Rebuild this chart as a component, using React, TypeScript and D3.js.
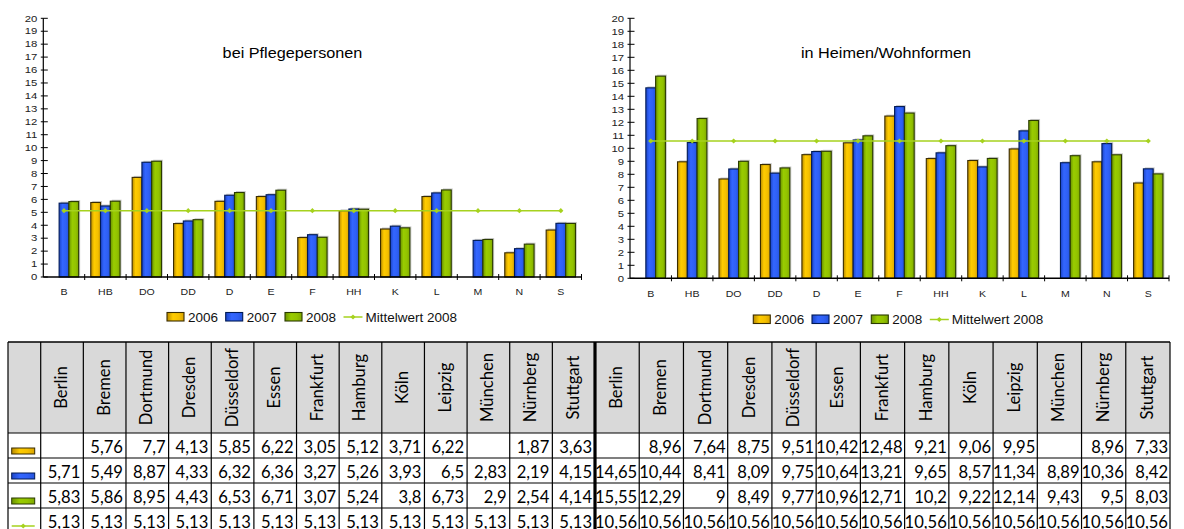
import React from 'react';
import * as d3 from 'd3';

const categories = ['B', 'HB', 'DO', 'DD', 'D', 'E', 'F', 'HH', 'K', 'L', 'M', 'N', 'S'];
const cities = ['Berlin', 'Bremen', 'Dortmund', 'Dresden', 'Düsseldorf', 'Essen', 'Frankfurt', 'Hamburg', 'Köln', 'Leipzig', 'München', 'Nürnberg', 'Stuttgart'];
const years = ['2006', '2007', '2008'];
const meanLabel = 'Mittelwert 2008';
const yTicks = [0, 1, 2, 3, 4, 5, 6, 7, 8, 9, 10, 11, 12, 13, 14, 15, 16, 17, 18, 19, 20];

const pflege2006: (number | null)[] = [null, 5.76, 7.7, 4.13, 5.85, 6.22, 3.05, 5.12, 3.71, 6.22, null, 1.87, 3.63];
const pflege2007: (number | null)[] = [5.71, 5.49, 8.87, 4.33, 6.32, 6.36, 3.27, 5.26, 3.93, 6.5, 2.83, 2.19, 4.15];
const pflege2008: (number | null)[] = [5.83, 5.86, 8.95, 4.43, 6.53, 6.71, 3.07, 5.24, 3.8, 6.73, 2.9, 2.54, 4.14];
const pflegeMean = 5.13;

const heim2006: (number | null)[] = [null, 8.96, 7.64, 8.75, 9.51, 10.42, 12.48, 9.21, 9.06, 9.95, null, 8.96, 7.33];
const heim2007: (number | null)[] = [14.65, 10.44, 8.41, 8.09, 9.75, 10.64, 13.21, 9.65, 8.57, 11.34, 8.89, 10.36, 8.42];
const heim2008: (number | null)[] = [15.55, 12.29, 9, 8.49, 9.77, 10.96, 12.71, 10.2, 9.22, 12.14, 9.43, 9.5, 8.03];
const heimMean = 10.56;

const FILLS = ['url(#gOrange)', 'url(#gBlue)', 'url(#gGreen)'];
const STROKES = ['#3a2c00', '#001a55', '#2a3a00'];
const MEAN_COLOR = '#a6d21e';
const AXIS_FONT = '"Liberation Sans", Arial, sans-serif';
const TABLE_FONT = 'Lato, "Open Sans", sans-serif';

function fmt(v: number | null) {
  if (v === null) return '';
  return String(v).replace('.', ',');
}

function SText(props: { x: number; y: number; sx: number; size: number; anchor: string; children: any; fill?: string; dy?: string }) {
  const { x, y, sx, size, anchor, children, fill, dy } = props;
  return (
    <text transform={`translate(${x},${y}) scale(${sx},1)`} fontSize={size} fontFamily={AXIS_FONT} textAnchor={anchor as any} fill={fill || '#222'} dy={dy}>
      {children}
    </text>
  );
}

function MeanMarker({ x, y }: { x: number; y: number }) {
  return (
    <path d={`M${x - 2.6},${y} L${x},${y - 2.6} L${x + 2.6},${y} L${x},${y + 2.6} Z`} fill={MEAN_COLOR} />
  );
}

function Chart(props: {
  x0: number; x1: number; yZero: number; yTop: number;
  title: string; titleX: number; titleY: number;
  series: (number | null)[][]; mean: number;
  legendX: number; legendY: number; labelY: number;
}) {
  const { x0, x1, yZero, yTop, title, titleX, titleY, series, mean, legendX, legendY, labelY } = props;
  const x = d3.scaleBand<string>().domain(categories).range([x0, x1]).padding(0);
  const inner = d3.scaleBand<string>().domain(years).range([0, x.bandwidth()]).paddingInner(0).paddingOuter(0.62);
  const y = d3.scaleLinear().domain([0, 20]).range([yZero, yTop]);
  const bw = inner.bandwidth();
  const meanLine = d3.line<string>().x((c) => (x(c) as number) + x.bandwidth() / 2).y(() => y(mean));
  const legendOffsets = [0, 58.7, 118, 176.5];
  return (
    <g>
      <SText x={titleX} y={titleY} sx={1.12} size={14.5} anchor="middle" fill="#000">{title}</SText>
      {categories.map((c, ci) => (
        <g key={c}>
          {series.map((s, si) => {
            const v = s[ci];
            if (v === null) return null;
            const bx = (x(c) as number) + (inner(years[si]) as number);
            const by = y(v);
            const h = y(0) - by;
            return (
              <g key={si}>
                <rect x={bx + 1.5} y={by - 1.5} width={bw} height={h} fill="#b4b4b4" opacity={0.7} />
                <rect x={bx} y={by} width={bw} height={h} fill={FILLS[si]} stroke={STROKES[si]} strokeWidth={1.1} />
              </g>
            );
          })}
        </g>
      ))}
      <path d={meanLine(categories) || ''} fill="none" stroke={MEAN_COLOR} strokeWidth={1.5} />
      {categories.map((c) => (
        <MeanMarker key={c} x={(x(c) as number) + x.bandwidth() / 2} y={y(mean)} />
      ))}
      <line x1={x0} x2={x0} y1={y(0)} y2={y(20)} stroke="#000" strokeWidth={1.2} />
      {yTicks.map((t) => (
        <g key={t}>
          <line x1={x0 - 2.5} x2={x0 + 4.5} y1={y(t)} y2={y(t)} stroke="#000" strokeWidth={1} />
          <SText x={x0 - 6} y={y(t)} sx={1.22} size={9.3} anchor="end" dy="0.35em">{String(t)}</SText>
        </g>
      ))}
      <line x1={x0} x2={x1} y1={y(0)} y2={y(0)} stroke="#000" strokeWidth={1.4} />
      {categories.map((c) => (
        <line key={c} x1={(x(c) as number) + x.bandwidth()} x2={(x(c) as number) + x.bandwidth()} y1={y(0) - 3} y2={y(0) + 3} stroke="#000" strokeWidth={1} />
      ))}
      {categories.map((c) => (
        <SText key={c} x={(x(c) as number) + x.bandwidth() / 2} y={labelY} sx={1.1} size={9.6} anchor="middle">{c}</SText>
      ))}
      {years.map((yr, i) => (
        <g key={yr}>
          <rect x={legendX + legendOffsets[i]} y={legendY - 9} width={17} height={8.5} fill={FILLS[i]} stroke={STROKES[i]} strokeWidth={1.1} />
          <SText x={legendX + legendOffsets[i] + 21} y={legendY} sx={1.08} size={12.5} anchor="start" fill="#111">{yr}</SText>
        </g>
      ))}
      <line x1={legendX + legendOffsets[3]} x2={legendX + legendOffsets[3] + 19} y1={legendY - 4.5} y2={legendY - 4.5} stroke={MEAN_COLOR} strokeWidth={1.5} />
      <MeanMarker x={legendX + legendOffsets[3] + 9.5} y={legendY - 4.5} />
      <SText x={legendX + legendOffsets[3] + 22} y={legendY} sx={1.08} size={12.5} anchor="start" fill="#111">{meanLabel}</SText>
    </g>
  );
}

function Table() {
  const top = 342;
  const headerH = 91;
  const rowH = 25;
  const left = 8;
  const firstW = 32.7;
  const sep = 595;
  const right = 1170;
  const fs = 16.6;
  const leftX = d3.scaleBand<string>().domain(cities).range([left + firstW, sep]).padding(0);
  const rightX = d3.scaleBand<string>().domain(cities).range([sep, right]).padding(0);
  const rows = [
    { left: pflege2006, right: heim2006 },
    { left: pflege2007, right: heim2007 },
    { left: pflege2008, right: heim2008 },
    { left: cities.map(() => pflegeMean), right: cities.map(() => heimMean) },
  ];
  const rowsBottom = top + headerH + rowH * rows.length;
  const cols: { x: number; w: number; city: string }[] = [];
  cities.forEach((c) => cols.push({ x: leftX(c) as number, w: leftX.bandwidth(), city: c }));
  cities.forEach((c) => cols.push({ x: rightX(c) as number, w: rightX.bandwidth(), city: c }));
  return (
    <g>
      <rect x={left} y={top} width={right - left} height={headerH} fill="#d9d9d9" />
      <rect x={left} y={top + headerH} width={right - left} height={rowH * rows.length} fill="#fff" />
      {cols.map((c, i) => (
        <text key={i} transform={`translate(${c.x + c.w / 2 + 5},${top + headerH / 2}) rotate(-90)`} textAnchor="middle" fontFamily={TABLE_FONT} fontSize={fs} fill="#000">
          {c.city}
        </text>
      ))}
      {rows.map((r, ri) => {
        const baseY = top + headerH + rowH * ri + 20;
        return (
          <g key={ri}>
            {cities.map((c, ci) => (
              <text key={'l' + ci} x={(leftX(c) as number) + leftX.bandwidth() - 3} y={baseY} textAnchor="end" fontFamily={TABLE_FONT} fontSize={fs} fill="#000">
                {fmt(r.left[ci])}
              </text>
            ))}
            {cities.map((c, ci) => (
              <text key={'r' + ci} x={(rightX(c) as number) + rightX.bandwidth() - 2} y={baseY} textAnchor="end" fontFamily={TABLE_FONT} fontSize={fs} fill="#000">
                {fmt(r.right[ci])}
              </text>
            ))}
          </g>
        );
      })}
      {[0, 1, 2].map((i) => (
        <rect key={i} x={11.7} y={top + headerH + rowH * i + 15} width={23} height={6} fill={FILLS[i]} stroke={STROKES[i]} strokeWidth={1} />
      ))}
      <line x1={11.7} x2={34.7} y1={top + headerH + rowH * 3 + 18} y2={top + headerH + rowH * 3 + 18} stroke={MEAN_COLOR} strokeWidth={1.5} />
      <MeanMarker x={23.2} y={top + headerH + rowH * 3 + 18} />
      {[top, top + headerH, top + headerH + rowH, top + headerH + rowH * 2, top + headerH + rowH * 3, rowsBottom].map((yy, i) => (
        <line key={'h' + i} x1={left} x2={right} y1={yy} y2={yy} stroke="#000" strokeWidth={i === 0 ? 1.5 : 1.2} />
      ))}
      <line x1={left} x2={left} y1={top} y2={rowsBottom} stroke="#000" strokeWidth={1.2} />
      <line x1={left + firstW} x2={left + firstW} y1={top} y2={rowsBottom} stroke="#000" strokeWidth={1.2} />
      {cols.map((c, i) => (
        <line key={'v' + i} x1={c.x + c.w} x2={c.x + c.w} y1={top} y2={rowsBottom} stroke="#000" strokeWidth={1.2} />
      ))}
      <line x1={sep} x2={sep} y1={top} y2={rowsBottom} stroke="#000" strokeWidth={3.2} />
    </g>
  );
}

export default function App() {
  return (
    <div style={{ position: 'fixed', left: 0, top: 0, width: 1184, height: 529, background: '#fff', overflow: 'hidden' }}>
      <svg width={1184} height={529} viewBox="0 0 1184 529">
        <defs>
          <linearGradient id="gOrange" x1="0" x2="1" y1="0" y2="0">
            <stop offset="0" stopColor="#b88a00" />
            <stop offset="0.35" stopColor="#ffcc00" />
            <stop offset="0.7" stopColor="#f5c000" />
            <stop offset="1" stopColor="#d9a400" />
          </linearGradient>
          <linearGradient id="gBlue" x1="0" x2="1" y1="0" y2="0">
            <stop offset="0" stopColor="#1c45c8" />
            <stop offset="0.35" stopColor="#3366ff" />
            <stop offset="0.7" stopColor="#2f60f5" />
            <stop offset="1" stopColor="#2352dc" />
          </linearGradient>
          <linearGradient id="gGreen" x1="0" x2="1" y1="0" y2="0">
            <stop offset="0" stopColor="#6a9200" />
            <stop offset="0.35" stopColor="#99cc00" />
            <stop offset="0.7" stopColor="#93c300" />
            <stop offset="1" stopColor="#7ea800" />
          </linearGradient>
        </defs>
        <Chart x0={43.3} x1={581.5} yZero={277} yTop={18.3} title="bei Pflegepersonen" titleX={292.5} titleY={58.3}
          series={[pflege2006, pflege2007, pflege2008]} mean={pflegeMean} legendX={167} legendY={321.5} labelY={295} />
        <Chart x0={630} x1={1169} yZero={278.3} yTop={18.3} title="in Heimen/Wohnformen" titleX={886} titleY={58.3}
          series={[heim2006, heim2007, heim2008]} mean={heimMean} legendX={753.3} legendY={324} labelY={296.5} />
        <Table />
      </svg>
    </div>
  );
}
